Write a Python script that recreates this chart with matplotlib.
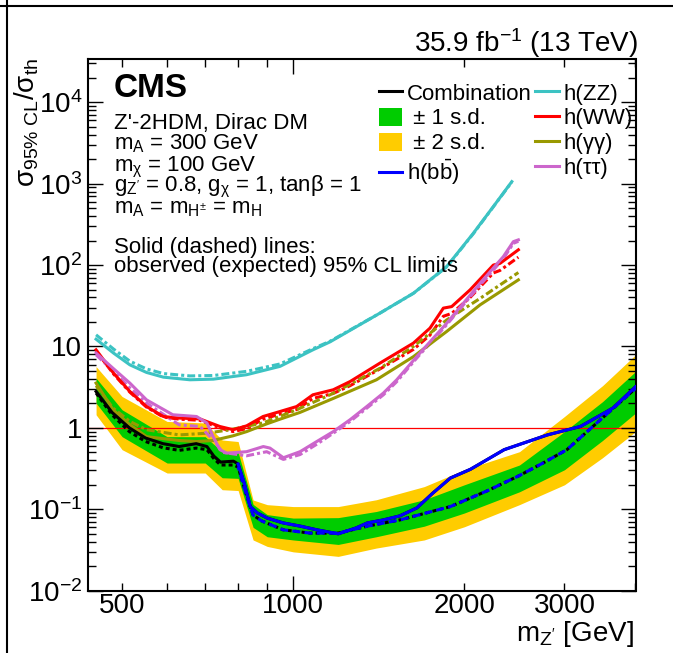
import math
import matplotlib
matplotlib.use("Agg")
import matplotlib.pyplot as plt
from matplotlib.patches import Patch
from matplotlib.lines import Line2D
from matplotlib.ticker import FixedLocator, FuncFormatter, LogLocator, NullFormatter

plt.rcParams["font.family"] = ["Liberation Sans", "DejaVu Sans"]
plt.rcParams["mathtext.fontset"] = "custom"
plt.rcParams["mathtext.rm"] = "Liberation Sans"
plt.rcParams["mathtext.it"] = "Liberation Sans:italic"
plt.rcParams["mathtext.bf"] = "Liberation Sans:bold"

# --- expected limit bands (combination) ---
band_m = [450, 500, 600, 700, 750, 800, 850, 900, 1000, 1200, 1400, 1700, 2000, 2500, 3000, 3500, 4000]
band_2up = [5.67, 2.43, 1.20, 1.15, 0.71, 0.68, 0.13, 0.114, 0.108, 0.108, 0.131, 0.19, 0.306, 0.51, 1.38, 3.3, 7.9]
band_1up = [4.09, 1.67, 0.78, 0.78, 0.51, 0.50, 0.115, 0.086, 0.078, 0.079, 0.094, 0.131, 0.20, 0.35, 0.90, 2.1, 4.92]
band_1dn = [2.02, 0.78, 0.37, 0.37, 0.244, 0.24, 0.060, 0.046, 0.042, 0.037, 0.046, 0.062, 0.09, 0.164, 0.306, 0.70, 1.52]
band_2dn = [1.45, 0.54, 0.279, 0.279, 0.174, 0.17, 0.042, 0.035, 0.030, 0.0264, 0.0334, 0.042, 0.061, 0.114, 0.20, 0.43, 0.90]

# --- combination below 800 GeV (above that it follows h(bb)) ---
comb_m = [450, 480, 515, 550, 590, 630, 675, 705, 725, 745, 785]
comb_obs = [2.80, 1.55, 1.00, 0.75, 0.64, 0.59, 0.64, 0.59, 0.45, 0.38, 0.39]
comb_exp = [2.68, 1.45, 0.90, 0.68, 0.57, 0.53, 0.565, 0.54, 0.42, 0.35, 0.35]

# --- h(bb) ---
bb_m_obs = [800, 820, 840, 865, 900, 960, 1030, 1100, 1200, 1290, 1350, 1440, 1540, 1650, 1760,
            1890, 2050, 2350, 2800, 3200, 3650, 4000]
bb_obs = [0.36, 0.21, 0.108, 0.09, 0.078, 0.068, 0.062, 0.056, 0.050, 0.059, 0.068, 0.074, 0.083,
          0.104, 0.158, 0.242, 0.31, 0.54, 0.82, 1.04, 1.75, 3.2]
bb_m_exp = [800, 825, 850, 880, 960, 1070, 1200, 1350, 1540, 1890, 2200, 2500, 2750, 3030, 3420, 4000]
bb_exp = [0.33, 0.16, 0.085, 0.072, 0.056, 0.051, 0.051, 0.062, 0.074, 0.108, 0.17, 0.26, 0.37,
          0.54, 1.15, 3.05]

# --- h(ZZ) ---
zz_m = [450, 483, 516, 552, 591, 658, 724, 828, 948, 1083, 1161, 1421, 1627, 1862, 2074, 2249, 2424]
zz_obs = [12.3, 8.3, 5.95, 4.8, 4.2, 3.9, 3.97, 4.5, 5.7, 9.1, 11.4, 25.7, 45, 96, 246, 523, 1060]
zz_exp = [13.9, 9.3, 6.6, 5.3, 4.65, 4.35, 4.4, 4.95, 6.1, 9.4, 11.6, 25.7, 45, 95, 243, 520, 1050]

# --- h(WW) ---
ww_m = [450, 483, 516, 552, 591, 630, 685, 743, 784, 828, 885, 948, 1014, 1083, 1176, 1259, 1421,
        1627, 1740, 1837, 1900, 2047, 2249, 2311, 2489]
ww_obs = [9.1, 4.7, 2.8, 1.83, 1.38, 1.32, 1.29, 1.04, 0.95, 1.06, 1.38, 1.59, 1.83, 2.55, 2.94,
          3.71, 6.25, 11.0, 16.8, 29.6, 30.9, 49.6, 100, 105, 154]
ww_exp = [8.8, 4.6, 2.75, 1.8, 1.36, 1.28, 1.24, 1.0, 0.90, 0.98, 1.28, 1.48, 1.68, 2.3, 2.65,
          3.3, 5.3, 9.2, 13.8, 23.5, 25.5, 40, 80, 86, 125]

# --- h(gamma gamma) ---
aa_m_obs = [450, 482, 516, 552, 630, 676, 723, 784, 828, 898, 948, 1028, 1176, 1401, 1627, 1862, 2132, 2489]
aa_obs = [3.55, 1.67, 1.09, 0.78, 0.70, 0.68, 0.70, 0.80, 0.90, 1.12, 1.28, 1.55, 2.3, 3.9, 7.5,
          15.3, 32.5, 65.8]
aa_m_exp = [450, 482, 516, 552, 630, 705, 774, 885, 1014, 1161, 1421, 1627, 1862, 2132, 2489]
aa_exp = [3.3, 1.75, 1.2, 0.95, 0.82, 0.86, 0.95, 1.15, 1.67, 2.55, 5.4, 10.0, 21.2, 39, 81]

# --- h(tau tau) ---
tt_m_obs = [450, 482, 516, 552, 614, 676, 705, 723, 743, 764, 828, 886, 910, 961, 1028, 1100, 1176,
            1259, 1347, 1441, 1521, 1649, 1862, 2132, 2342, 2439, 2489]
tt_obs = [8.3, 5.4, 3.55, 2.21, 1.45, 1.38, 1.15, 0.78, 0.54, 0.49, 0.51, 0.59, 0.565, 0.43, 0.51,
          0.68, 0.90, 1.26, 1.83, 2.68, 3.9, 7.5, 19.3, 60, 127, 194, 204]
tt_m_exp = [450, 482, 516, 552, 630, 686, 723, 752, 828, 898, 961, 1028, 1100, 1176, 1259, 1347,
            1441, 1521, 1649, 1862, 2132, 2342, 2439, 2489]
tt_exp = [7.9, 5.0, 3.1, 2.02, 1.09, 1.04, 0.71, 0.50, 0.454, 0.51, 0.41, 0.47, 0.63, 0.86, 1.2,
          1.75, 2.55, 3.7, 7.2, 18.5, 57, 120, 185, 196]

x_labels = {500: "500", 1000: "1000", 2000: "2000", 3000: "3000"}

GREEN = "#00cc00"
YELLOW = "#ffcc00"
CYAN = "#3cc3c3"
RED = "#ff0000"
OLIVE = "#999900"
ORCHID = "#cc66cc"
BLUE = "#0000ff"

W, H = 673, 653


def fx(px):
    return px / W


def fy(py):
    return 1 - py / H


fig = plt.figure(figsize=(W / 100, H / 100), dpi=100)
ax = fig.add_axes([fx(87.7), fy(590.7), fx(635.5) - fx(87.7), fy(59) - fy(590.7)])
ax.set_xscale("log")
ax.set_yscale("log")
ax.set_xlim(435, 4000)
ax.set_ylim(0.01, 3.4e4)

ax.fill_between(band_m, band_2dn, band_2up, color=YELLOW, lw=0, zorder=1)
ax.fill_between(band_m, band_1dn, band_1up, color=GREEN, lw=0, zorder=1.1)
ax.axhline(1, color="red", lw=0.9, zorder=1.5)

LW = 2.2
dashdot = (0, (2.6, 1, 1, 1))

ax.plot(zz_m, zz_exp, color=CYAN, lw=LW, ls=dashdot, zorder=2)
ax.plot(zz_m, zz_obs, color=CYAN, lw=LW, zorder=3)
ax.plot(ww_m, ww_exp, color=RED, lw=LW, ls=dashdot, zorder=2)
ax.plot(ww_m, ww_obs, color=RED, lw=LW, zorder=3)
ax.plot(aa_m_exp, aa_exp, color=OLIVE, lw=LW, ls=dashdot, zorder=2)
ax.plot(aa_m_obs, aa_obs, color=OLIVE, lw=LW, zorder=3)
ax.plot(tt_m_exp, tt_exp, color=ORCHID, lw=LW, ls=dashdot, zorder=2)
ax.plot(tt_m_obs, tt_obs, color=ORCHID, lw=LW, zorder=3)

ax.plot(comb_m + bb_m_exp, comb_exp + bb_exp, color="black", lw=LW, ls=(0, (1.3, 1)), zorder=4)
ax.plot(comb_m + bb_m_obs, comb_obs + bb_obs, color="black", lw=LW, zorder=4)
ax.plot(bb_m_exp, bb_exp, color=BLUE, lw=LW, ls=(1.5, (2.6, 1.4)), zorder=5)
ax.plot(bb_m_obs, bb_obs, color=BLUE, lw=LW, zorder=5)

# axes style (ROOT-like)
for s in ax.spines.values():
    s.set_linewidth(1.5)
ax.tick_params(which="both", direction="in", top=True, right=True, width=1.0)
ax.tick_params(which="major", length=11, labelsize=20)
ax.tick_params(which="minor", length=5.8, labelsize=20)
ax.tick_params(axis="x", which="both", pad=2)
ax.tick_params(axis="y", which="both", pad=4)

ax.xaxis.set_major_locator(FixedLocator([1000]))
ax.xaxis.set_minor_locator(FixedLocator([500, 600, 700, 800, 900, 2000, 3000, 4000]))
xfmt = FuncFormatter(lambda v, p: x_labels.get(int(round(v)), ""))
ax.xaxis.set_major_formatter(xfmt)
ax.xaxis.set_minor_formatter(xfmt)


def ylab(v, p):
    e = int(round(math.log10(v)))
    if e == 0:
        return "1"
    if e == 1:
        return "10"
    return r"$\mathregular{10^{%d}}$" % e


ax.yaxis.set_major_locator(LogLocator(base=10, numticks=20))
ax.yaxis.set_minor_locator(LogLocator(base=10, subs=range(2, 10), numticks=20))
ax.yaxis.set_major_formatter(FuncFormatter(ylab))
ax.yaxis.set_minor_formatter(NullFormatter())

# labels and annotations
fig.text(fx(27), fy(58), r"σ$_{\mathregular{95\%\ CL}}$/σ$_{\mathregular{th}}$", rotation=90,
         ha="center", va="top", fontsize=20)
fig.text(fx(634), fy(641), r"m$_{\mathregular{Z'}}$ [GeV]", ha="right", va="baseline", fontsize=20)
fig.text(fx(638), fy(52), r"35.9 fb$^{\mathregular{-1}}$ (13 TeV)", ha="right", va="baseline",
         fontsize=20)
fig.text(fx(114), fy(97.3), "CMS", fontsize=24, fontweight="bold", va="baseline")

info = [
    (129, "Z'-2HDM, Dirac DM"),
    (149.3, r"m$_{\mathregular{A}}$ = 300 GeV"),
    (171, r"m$_{\mathregular{χ}}$ = 100 GeV"),
    (191.7, r"g$_{\mathregular{Z'}}$ = 0.8, g$_{\mathregular{χ}}$ = 1, tanβ = 1"),
    (213, r"m$_{\mathregular{A}}$ = m$_{\mathregular{H^{±}}}$ = m$_{\mathregular{H}}$"),
    (252.7, "Solid (dashed) lines:"),
    (272, "observed (expected) 95% CL limits"),
]
for yb, txt in info:
    fig.text(fx(114), fy(yb), txt, fontsize=16, va="baseline")

handles = [
    Line2D([], [], color="black", lw=LW),
    Patch(facecolor=GREEN, edgecolor="none"),
    Patch(facecolor=YELLOW, edgecolor="none"),
    Line2D([], [], color=BLUE, lw=LW),
    Line2D([], [], color=CYAN, lw=LW),
    Line2D([], [], color=RED, lw=LW),
    Line2D([], [], color=OLIVE, lw=LW),
    Line2D([], [], color=ORCHID, lw=LW),
]
labels = ["Combination", " ± 1 s.d.", " ± 2 s.d.", r"h(b$\mathregular{\bar{b}}$)",
          "h(ZZ)", "h(WW)", "h(γγ)", "h(ττ)"]
fig.legend(handles, labels, ncol=2, loc="upper left", bbox_to_anchor=(fx(379), fy(83)),
           frameon=False, fontsize=16, borderpad=0, borderaxespad=0, handlelength=1.05,
           handleheight=0.85, handletextpad=0.22, columnspacing=0.15, labelspacing=0.15)

# outer frame of the original canvas (left and top edges)
fig.add_artist(Line2D([fx(7), fx(7)], [0, 1], color="black", lw=1.5, transform=fig.transFigure))
fig.add_artist(Line2D([0, 1], [fy(6), fy(6)], color="black", lw=1.5, transform=fig.transFigure))

fig.savefig("out.png", dpi=100)
